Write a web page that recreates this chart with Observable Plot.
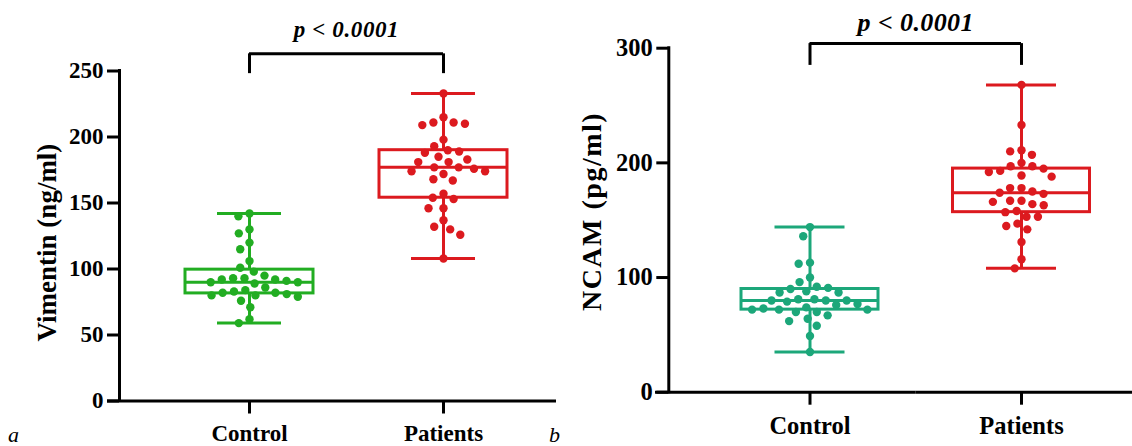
<!DOCTYPE html>
<html><head><meta charset="utf-8">
<script src="https://cdn.jsdelivr.net/npm/d3@7"></script>
<script src="https://cdn.jsdelivr.net/npm/@observablehq/plot@0.6"></script>
<style>
body{margin:0;background:#fff;}
#fig{position:relative;width:1132px;height:446px;display:flex;overflow:hidden;background:#fff;}
#fig svg{overflow:visible;}
.tag{position:absolute;font-family:"Liberation Serif","Times New Roman",serif;font-style:italic;font-size:22px;line-height:1;}
</style></head><body>
<div id="fig"><div id="pa"></div><div id="pb"></div>
<span class="tag" style="left:8px;top:424px">a</span>
<span class="tag" style="left:549px;top:424px">b</span>
</div>
<script>
const groups = ["Control", "Patients"];
const vimentinControl = [142, 140, 130, 127, 120, 115, 106, 101, 98, 95, 93, 93, 92, 92, 91, 90, 90, 89, 86, 84, 83, 82, 82, 81, 80, 80, 79, 76, 71, 62, 59];
const vimentinPatients = [233, 215, 211, 211, 210, 209, 198, 193, 190, 189, 188, 185, 183, 181, 181, 177, 177, 176, 174, 174, 172, 168, 167, 157, 154, 153, 146, 146, 137, 132, 130, 126, 108];
const ncamControl = [144, 136, 113, 112, 100, 96, 92, 91, 90, 88, 87, 87, 81, 81, 80, 80, 80, 79, 77, 76, 74, 73, 72, 72, 72, 70, 70, 67, 64, 62, 58, 49, 35];
const ncamPatients = [268, 233, 211, 210, 207, 200, 197, 197, 195, 193, 192, 189, 188, 178, 178, 175, 174, 173, 167, 167, 166, 164, 163, 158, 157, 153, 153, 147, 145, 142, 131, 116, 108];
const vimentinTicks = [0, 50, 100, 150, 200, 250];
const ncamTicks = [0, 100, 200, 300];
const vimentinLabel = "Vimentin (ng/ml)";
const ncamLabel = "NCAM (pg/ml)";
const pLabel = "p < 0.0001";
const colorsA = ["#22ad22", "#dc1a1f"];
const colorsB = ["#1ca77a", "#dc1a1f"];

const FONT = '"Liberation Serif","Times New Roman",serif';

function rowsOf(control, patients) {
  return [
    ...control.map(value => ({group: "Control", value})),
    ...patients.map(value => ({group: "Patients", value}))
  ];
}

function panel(o) {
  const rows = rowsOf(o.control, o.patients);
  const bw = (o.width - o.marginLeft - o.marginRight) / 2;
  const center = o.marginLeft + bw / 2;
  const first = [{g: "Control"}];
  const last = [{g: "Patients"}];
  const lw = 3;
  const boxInset = (bw - o.boxWidth) / 2;
  const capInset = (bw - o.capWidth) / 2;
  const common = {fx: "group", stroke: "group", strokeWidth: lw};
  const svg = Plot.plot({
    width: o.width, height: o.height,
    marginLeft: o.marginLeft, marginRight: o.marginRight,
    marginTop: o.marginTop, marginBottom: o.marginBottom,
    fx: {domain: groups, padding: 0, round: false, axis: null},
    y: {domain: o.yDomain, axis: null},
    color: {domain: groups, range: o.colors},
    style: {fontFamily: FONT, color: "black", background: "white"},
    marks: [
      // x axis line (one piece per facet, no overlap)
      Plot.ruleY(first, {fx: "g", y: 0, stroke: "black", strokeWidth: lw, insetLeft: o.xAxisLeft - o.marginLeft}),
      Plot.ruleY(last, {fx: "g", y: 0, stroke: "black", strokeWidth: lw, insetRight: -o.marginRight}),
      Plot.axisFx({anchor: "bottom", tickSize: 13, strokeWidth: lw, tickPadding: 11, fontSize: o.xFont, fontWeight: "bold", label: null}),
      // y axis
      Plot.ruleX(first, {fx: "g", x: null, y1: o.yDomain[0], y2: o.yDomain[1], dx: o.yAxisX - center, stroke: "black", strokeWidth: lw, strokeLinecap: "square"}),
      Plot.axisY(o.ticks, {anchor: "left", dx: o.yAxisX - o.marginLeft, tickSize: 12, strokeWidth: lw, tickPadding: 4, fontSize: o.tickFont, fontWeight: "bold", label: null}),
      Plot.text(first, {fx: "g", text: () => o.label, frameAnchor: "middle", rotate: -90, dx: o.labelX - center, dy: o.labelY - (o.marginTop + (o.height - o.marginTop - o.marginBottom) / 2), fontSize: o.labelSize, fontWeight: "bold"}),
      // whiskers
      Plot.ruleX(rows, Plot.groupZ({y1: "min", y2: "max"}, {...common, x: null, y1: "value", y2: "value"})),
      Plot.ruleY(rows, Plot.groupZ({y: "min"}, {...common, y: "value", insetLeft: capInset, insetRight: capInset})),
      Plot.ruleY(rows, Plot.groupZ({y: "max"}, {...common, y: "value", insetLeft: capInset, insetRight: capInset})),
      // box
      Plot.rect(rows, Plot.groupZ({y1: "p25", y2: "p75"}, {...common, y1: "value", y2: "value", fill: "white", insetLeft: boxInset, insetRight: boxInset})),
      Plot.ruleY(rows, Plot.groupZ({y: "median"}, {...common, y: "value", insetLeft: boxInset, insetRight: boxInset})),
      // points
      Plot.dot(rows, Plot.dodgeX({anchor: "middle", padding: 3}, {fx: "group", y: "value", fill: "group", r: 4.2})),
      // significance bracket
      Plot.ruleY(first, {fx: "g", y: o.bracket[0], insetLeft: bw / 2, insetRight: -bw / 2, stroke: "black", strokeWidth: lw}),
      Plot.ruleX(groups.map(g => ({g})), {fx: "g", x: null, y1: o.bracket[0], y2: o.bracket[1], stroke: "black", strokeWidth: lw}),
      Plot.text(first, {fx: "g", text: () => pLabel, y: o.pY, dx: bw / 2, fontSize: o.pFont, fontWeight: "bold", fontStyle: "italic"})
    ]
  });
  const sel = d3.select(svg);
  sel.selectAll("text").filter(function() { return this.textContent === o.label; }).style("letter-spacing", o.labelSpacing + "px");
  sel.selectAll("text").filter(function() { return this.textContent === pLabel; }).style("letter-spacing", o.pSpacing + "px");
  return svg;
}

document.getElementById("pa").append(panel({
  control: vimentinControl, patients: vimentinPatients, colors: colorsA,
  ticks: vimentinTicks, yDomain: [0, 250], label: vimentinLabel, labelSize: 27, labelSpacing: 0,
  tickFont: 23, xFont: 23, pFont: 23, pSpacing: 0.6,
  width: 556, height: 446, marginLeft: 152, marginRight: 16, marginTop: 70.5, marginBottom: 45.5,
  yAxisX: 119, xAxisLeft: 107, labelX: 47, labelY: 242,
  boxWidth: 128, capWidth: 64, bracket: [263, 248], pY: 281
}));
document.getElementById("pb").append(panel({
  control: ncamControl, patients: ncamPatients, colors: colorsB,
  ticks: ncamTicks, yDomain: [0, 300], label: ncamLabel, labelSize: 28, labelSpacing: 1.5,
  tickFont: 24.5, xFont: 24.5, pFont: 26, pSpacing: 0.4,
  width: 576, height: 446, marginLeft: 147.75, marginRight: 5.25, marginTop: 47.7, marginBottom: 54.3,
  yAxisX: 112.3, xAxisLeft: 99, labelX: 36, labelY: 211,
  boxWidth: 137, capWidth: 70, bracket: [304, 285], pY: 322
}));
</script>
</body></html>
